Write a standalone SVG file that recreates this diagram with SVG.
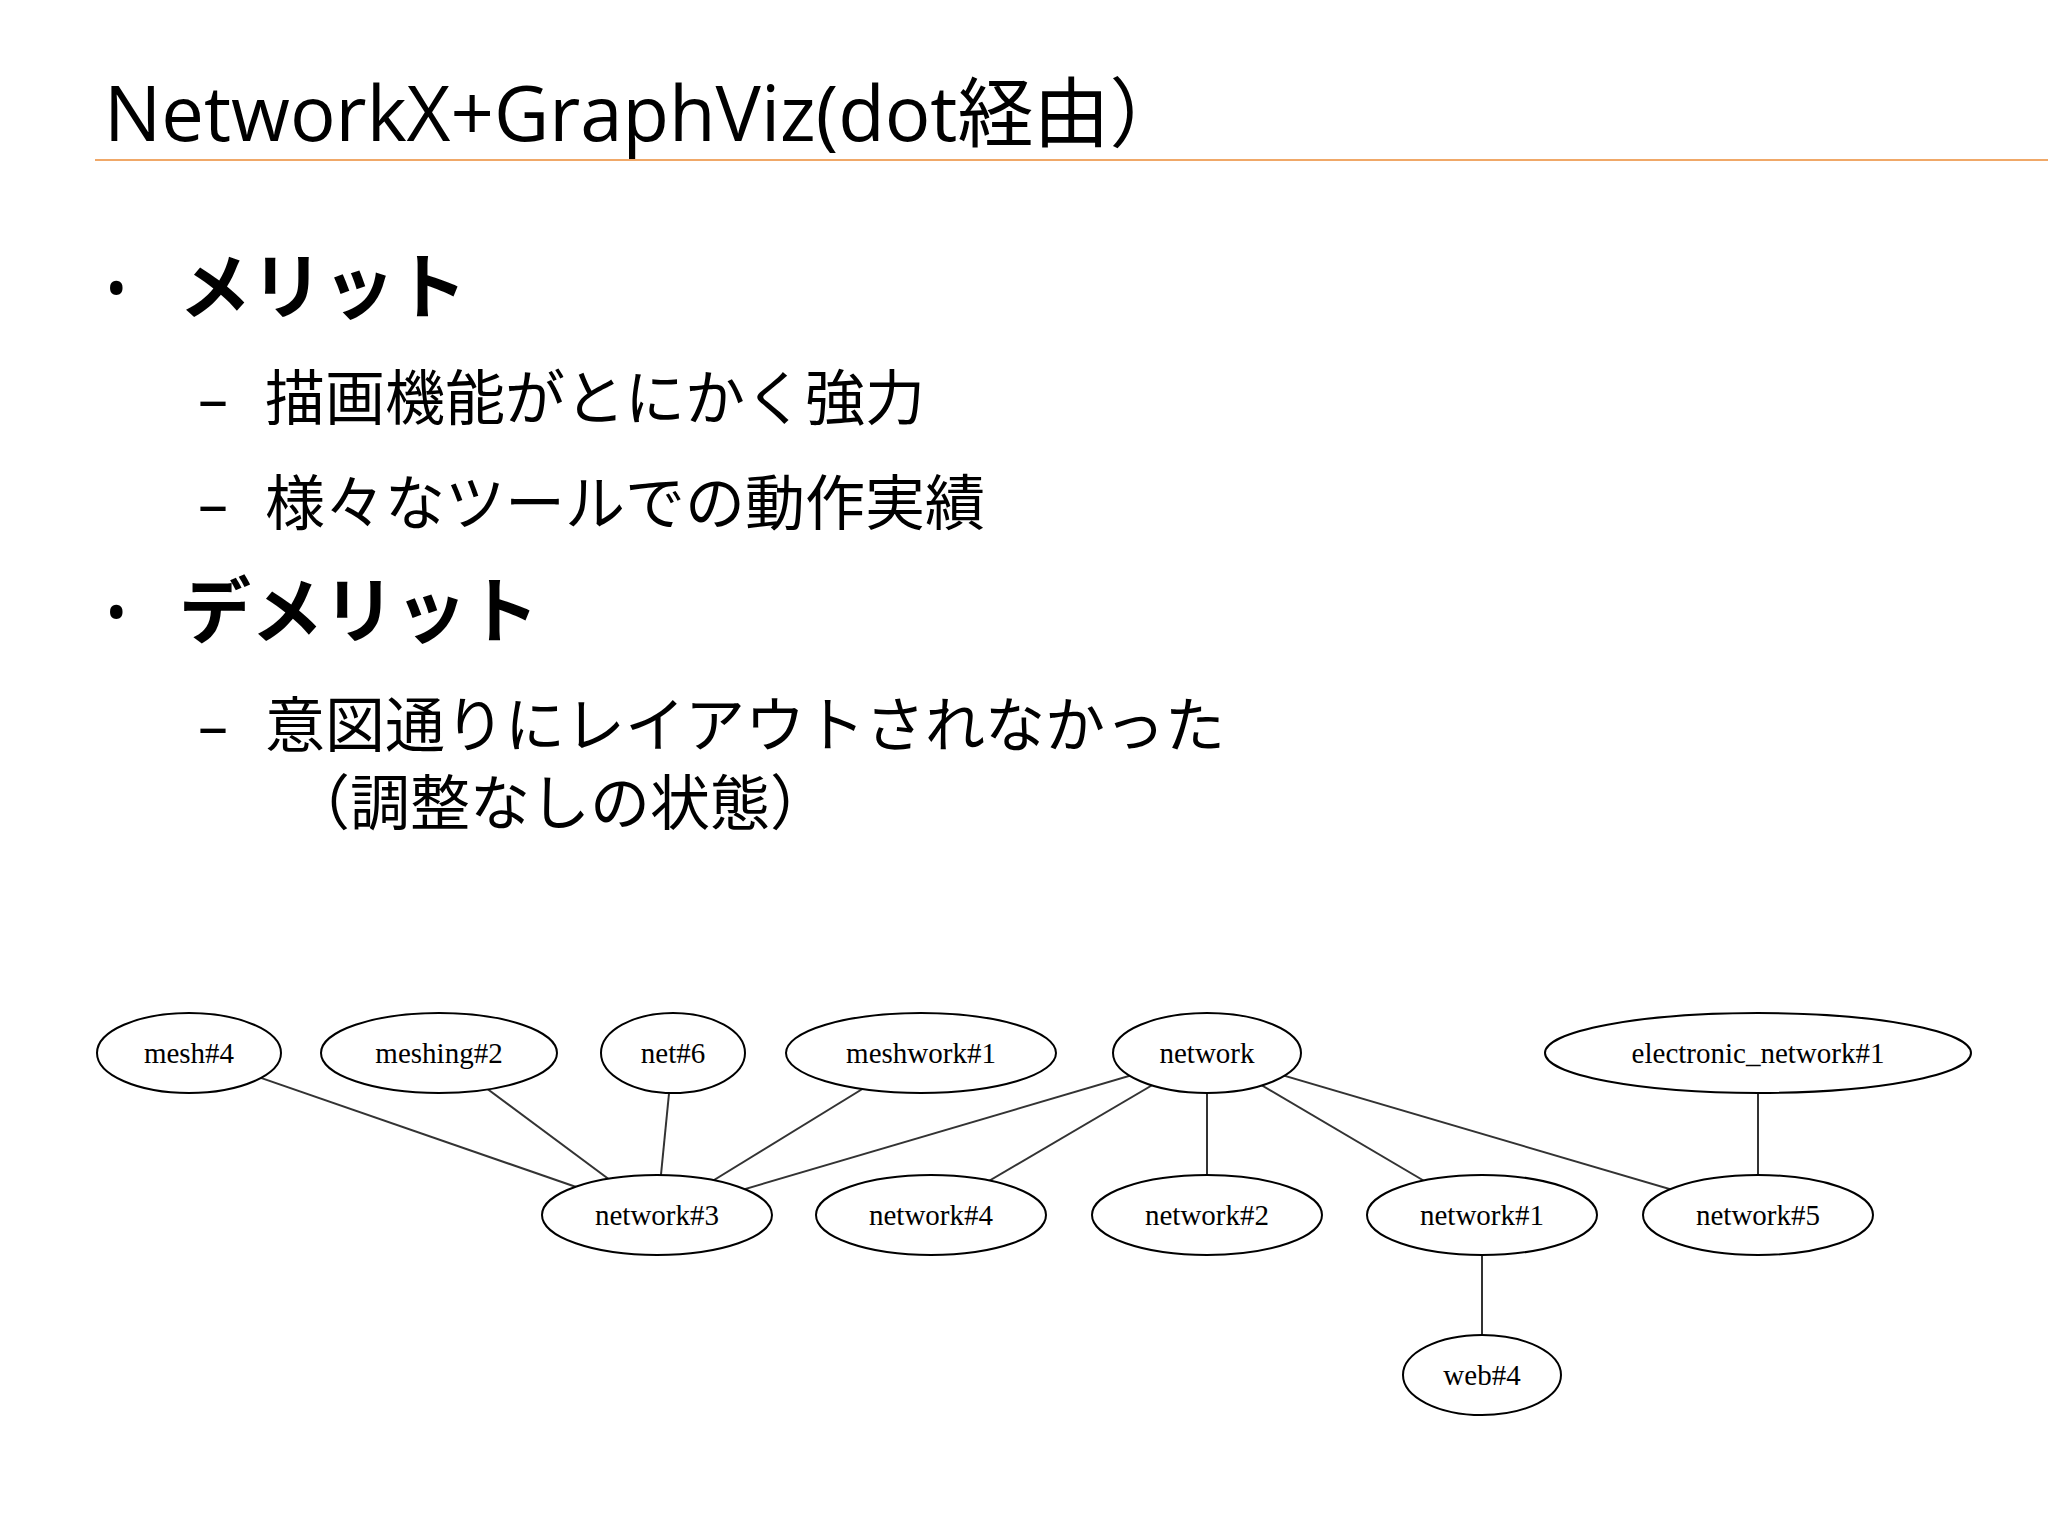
<svg xmlns="http://www.w3.org/2000/svg" width="2048" height="1536" viewBox="0 0 2048 1536">
<style>
.t{font-family:"Open Sans","Noto Sans CJK JP",sans-serif;fill:#000}
.b{font-family:"Noto Sans CJK JP",sans-serif;font-weight:bold;fill:#000}
.s{font-family:"Open Sans","Noto Sans CJK JP",sans-serif;font-size:60px;fill:#000}
ellipse{fill:#fff;stroke:#000;stroke-width:2}
.n text{font-family:"Liberation Serif",serif;font-size:29px;text-anchor:middle;fill:#000}
#edges line{stroke:#333;stroke-width:2}
</style>
<rect width="2048" height="1536" fill="#fff"/>
<text class="t" x="104" y="141" font-size="76">NetworkX+GraphViz(dot経由）</text>
<line x1="95" y1="160" x2="2048" y2="160" stroke="#f0a868" stroke-width="2"/>
<text class="t" x="105" y="310" font-size="60">•</text>
<text class="b" x="179" y="313" font-size="72">メリット</text>
<text class="s" x="198" y="420">–</text><text class="s" x="265" y="420">描画機能がとにかく強力</text>
<text class="s" x="198" y="525">–</text><text class="s" x="265" y="525">様々なツールでの動作実績</text>
<text class="t" x="105" y="634" font-size="60">•</text>
<text class="b" x="179" y="637" font-size="72">デメリット</text>
<text class="s" x="198" y="747">–</text><text class="s" x="265" y="747">意図通りにレイアウトされなかった</text>
<text class="s" x="290" y="825">（調整なしの状態）</text>
<g id="edges">
<line x1="189" y1="1053" x2="657" y2="1215"/>
<line x1="439" y1="1053" x2="657" y2="1215"/>
<line x1="673" y1="1053" x2="657" y2="1215"/>
<line x1="921" y1="1053" x2="657" y2="1215"/>
<line x1="1207" y1="1053" x2="657" y2="1215"/>
<line x1="1207" y1="1053" x2="931" y2="1215"/>
<line x1="1207" y1="1053" x2="1207" y2="1215"/>
<line x1="1207" y1="1053" x2="1482" y2="1215"/>
<line x1="1207" y1="1053" x2="1758" y2="1215"/>
<line x1="1758" y1="1053" x2="1758" y2="1215"/>
<line x1="1482" y1="1215" x2="1482" y2="1375"/>
</g>
<g id="mesh4" class="n"><ellipse cx="189" cy="1053" rx="92" ry="40"/><text x="189" y="1063">mesh#4</text></g>
<g id="meshing2" class="n"><ellipse cx="439" cy="1053" rx="118" ry="40"/><text x="439" y="1063">meshing#2</text></g>
<g id="net6" class="n"><ellipse cx="673" cy="1053" rx="72" ry="40"/><text x="673" y="1063">net#6</text></g>
<g id="meshwork1" class="n"><ellipse cx="921" cy="1053" rx="135" ry="40"/><text x="921" y="1063">meshwork#1</text></g>
<g id="network" class="n"><ellipse cx="1207" cy="1053" rx="94" ry="40"/><text x="1207" y="1063">network</text></g>
<g id="elec1" class="n"><ellipse cx="1758" cy="1053" rx="213" ry="40"/><text x="1758" y="1063">electronic_network#1</text></g>
<g id="network3" class="n"><ellipse cx="657" cy="1215" rx="115" ry="40"/><text x="657" y="1225">network#3</text></g>
<g id="network4" class="n"><ellipse cx="931" cy="1215" rx="115" ry="40"/><text x="931" y="1225">network#4</text></g>
<g id="network2" class="n"><ellipse cx="1207" cy="1215" rx="115" ry="40"/><text x="1207" y="1225">network#2</text></g>
<g id="network1" class="n"><ellipse cx="1482" cy="1215" rx="115" ry="40"/><text x="1482" y="1225">network#1</text></g>
<g id="network5" class="n"><ellipse cx="1758" cy="1215" rx="115" ry="40"/><text x="1758" y="1225">network#5</text></g>
<g id="web4" class="n"><ellipse cx="1482" cy="1375" rx="79" ry="40"/><text x="1482" y="1385">web#4</text></g>
</svg>
